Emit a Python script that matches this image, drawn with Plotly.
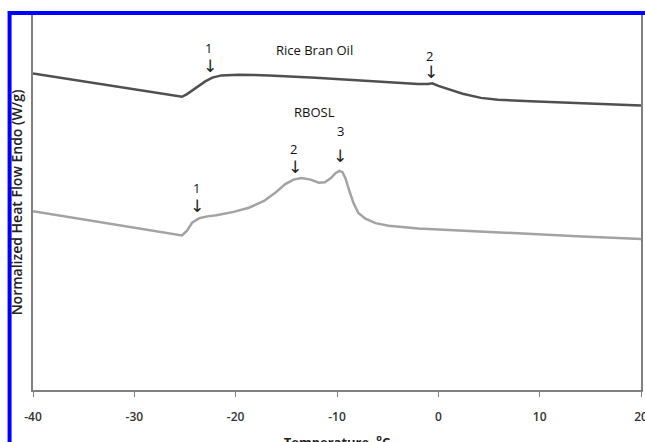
import plotly.graph_objects as go

# Temperature (°C) and normalized heat flow (arbitrary W/g units)
rbo_temp = [-40.0, -25.3, -24.8, -23.8, -23.0, -22.3, -21.4, -19.7, -16.7, -12.1,
            -5.6, -2.0, -1.0, -0.6, 0.0, 1.0, 2.4, 4.2, 5.9, 9.1, 15.7, 20.0]
rbo_flow = [8.44, 7.82, 7.89, 8.07, 8.23, 8.33, 8.39, 8.41, 8.39, 8.33,
            8.21, 8.16, 8.16, 8.18, 8.11, 8.02, 7.90, 7.79, 7.74, 7.70, 7.63, 7.59]

rbosl_temp = [-40.0, -25.3, -24.8, -24.3, -23.6, -22.8, -21.9, -20.2, -18.7, -17.2,
              -16.0, -15.1, -14.3, -13.5, -12.6, -11.8, -11.2, -10.6, -10.15, -9.76,
              -9.46, -9.17, -8.77, -8.38, -7.89, -7.2, -6.2, -4.9, -2.0, 5.9, 13.7, 20.0]
rbosl_flow = [4.77, 4.12, 4.25, 4.46, 4.58, 4.63, 4.66, 4.75, 4.86, 5.04,
              5.28, 5.49, 5.61, 5.65, 5.61, 5.53, 5.54, 5.65, 5.78, 5.84,
              5.81, 5.65, 5.30, 4.99, 4.72, 4.57, 4.45, 4.38, 4.31, 4.20, 4.10, 4.03]

x_ticks = [-40, -30, -20, -10, 0, 10, 20]

# Label annotations: (text, temperature, flow)
labels = [
    ("1", -22.72, 9.13), ("Rice Bran Oil", -12.21, 9.08), ("2", -0.91, 8.92),
    ("RBOSL", -12.21, 7.41),
    ("1", -23.9, 5.38), ("2", -14.27, 6.44), ("3", -9.66, 6.91),
]
arrows = [(-22.52, 8.63), (-0.72, 8.47), (-23.8, 4.91), (-14.17, 5.94), (-9.66, 6.25)]

fig = go.Figure()
fig.add_trace(go.Scatter(x=rbo_temp, y=rbo_flow, mode="lines", name="Rice Bran Oil",
                         line=dict(color="#505050", width=2.5)))
fig.add_trace(go.Scatter(x=rbosl_temp, y=rbosl_flow, mode="lines", name="RBOSL",
                         line=dict(color="#a3a3a3", width=2.5)))

annots = []
for t, x, y in labels:
    annots.append(dict(x=x, y=y, xref="x", yref="y", text=t, showarrow=False,
                       font=dict(family="Open Sans", size=13, color="#111111")))
for x, y in arrows:
    annots.append(dict(x=x, y=y, xref="x", yref="y", text="↓", showarrow=False,
                       font=dict(family="DejaVu Sans", size=17, color="#222222")))

fig.update_layout(
    width=660, height=460,
    margin=dict(l=33, r=17, t=15, b=66),
    paper_bgcolor="white", plot_bgcolor="white",
    showlegend=False,
    annotations=annots,
    xaxis=dict(range=[-40, 20], tickvals=x_ticks, ticktext=[str(v) for v in x_ticks],
               showgrid=False, zeroline=False, showline=True, linecolor="#808080",
               linewidth=2, ticks="outside", ticklen=5, tickcolor="#808080",
               ticklabelstandoff=10,
               tickfont=dict(family="Open Sans", size=12, color="#333333", weight=600),
               title=dict(text="Temperature, <sup>o</sup>C", standoff=13,
                          font=dict(family="Open Sans", size=13, color="#222222", weight=700))),
    yaxis=dict(range=[0, 10], showgrid=False, zeroline=False, showline=True,
               linecolor="#808080", linewidth=2, mirror=True, showticklabels=False,
               ticks="",
               title=dict(text="Normalized Heat Flow Endo (W/g)", standoff=5,
                          font=dict(family="Open Sans", size=14, color="#222222", weight=600))),
    shapes=[dict(type="rect", xref="paper", yref="paper",
                 x0=(9.5 - 33) / 610, x1=(650 - 33) / 610,
                 y0=(394 - 470) / 379, y1=(394 - 13) / 379,
                 line=dict(color="#0000ff", width=4), fillcolor="rgba(0,0,0,0)",
                 layer="above")],
)

fig.write_html("out.html", config={"displayModeBar": False},
               post_script="document.body.style.margin='0px';document.body.style.overflow='hidden';")
